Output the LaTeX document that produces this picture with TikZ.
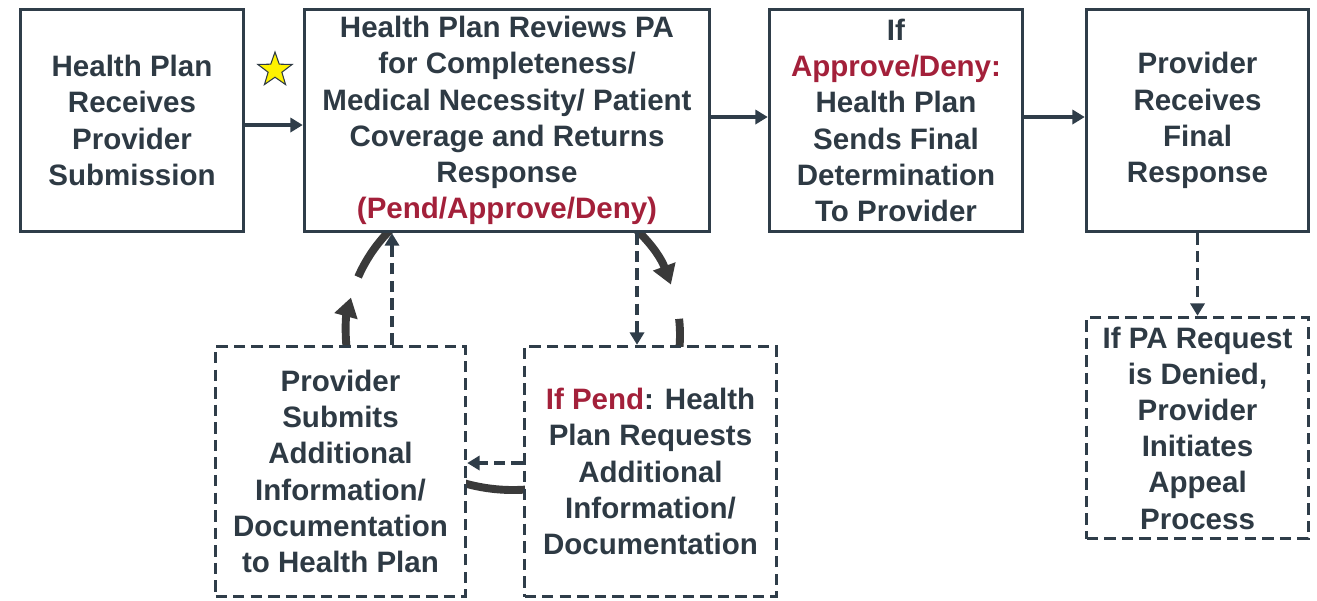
\documentclass[tikz,border=0pt]{standalone}
\usepackage{fontspec}
\setmainfont{Liberation Sans}
\usetikzlibrary{arrows.meta}
\usetikzlibrary{shapes.geometric}

\definecolor{slate}{HTML}{2F3D49}
\definecolor{ink}{HTML}{2E3A44}
\definecolor{pend}{HTML}{A3203A}
\definecolor{cycle}{HTML}{3A3A3A}

\begin{document}
\begin{tikzpicture}[x=0.02cm, y=-0.02cm,
  every node/.style={align=center, inner sep=0pt, text=ink,
    font=\fontsize{16.8}{20.6}\selectfont\bfseries},
  box/.style={draw=slate, line width=2pt, fill=white},
  dbox/.style={box, dash pattern=on 6.5pt off 3.5pt},
  arr/.style={draw=slate, line width=2pt, -{Triangle[width=8pt,length=7pt]}},
  darr/.style={arr, dash pattern=on 6.5pt off 3.5pt},
  loop/.style={draw=cycle, line width=4.5pt},
  looparr/.style={loop, -{Triangle[width=13pt,length=11pt]}}]
\useasboundingbox (0,0) rectangle (1317,600);

% the review cycle, mostly hidden behind the boxes
\draw[looparr] (513,335) ++(172:167 and 155) arc[start angle=172, end angle=194, x radius=167, y radius=155];
\draw[loop] (513,335) ++(202:167 and 155) arc[start angle=202, end angle=240, x radius=167, y radius=155];
\draw[looparr] (513,335) ++(300:167 and 155) arc[start angle=300, end angle=341, x radius=167, y radius=155];
\draw[loop] (513,335) ++(354:167 and 155) arc[start angle=354, end angle=380, x radius=167, y radius=155];
\draw[loop] (513,335) ++(75:167 and 155) arc[start angle=75, end angle=120, x radius=167, y radius=155];

% top row
\node[box, minimum width=223*0.02cm, minimum height=222*0.02cm] (receive) at (132,120.5)
  {Health Plan\\Receives\\Provider\\Submission};
\node[box, minimum width=405*0.02cm, minimum height=222*0.02cm] (review) at (507,120.5)
  {Health Plan Reviews PA\\for Completeness/\\Medical Necessity/ Patient\\Coverage and Returns\\Response\\\textcolor{pend}{(Pend/Approve/Deny)}};
\node[box, minimum width=253*0.02cm, minimum height=222*0.02cm] (final) at (896,120.5)
  {If\\\textcolor{pend}{Approve/Deny:}\\Health Plan\\Sends Final\\Determination\\To Provider};
\node[box, minimum width=222*0.02cm, minimum height=222*0.02cm] (response) at (1197.5,120.5)
  {Provider\\Receives\\Final\\Response};

% bottom row
\node[dbox, minimum width=250*0.02cm, minimum height=250*0.02cm] (submit) at (340.5,471.5)
  {Provider\\Submits\\Additional\\Information/\\Documentation\\to Health Plan};
\node[dbox, minimum width=252*0.02cm, minimum height=250*0.02cm] (request) at (650.5,471.5)
  {\textcolor{pend}{If Pend}: Health\\Plan Requests\\Additional\\Information/\\Documentation};
\node[dbox, minimum width=222*0.02cm, minimum height=221*0.02cm] (appeal) at (1197.5,428)
  {If PA Request\\is Denied,\\Provider\\Initiates\\Appeal\\Process};

\node[star, star points=5, star point ratio=2.5, draw=ink, fill=yellow,
  line width=0.6pt, minimum size=0.72cm] (star) at (275,70) {};

\coordinate (pendin) at ([xshift=-0.27cm]request.north);
\coordinate (subout) at ([xshift=1.03cm]submit.north);

\draw[arr] ([yshift=-0.09cm]receive.east) -- ([yshift=-0.09cm]review.west);
\draw[arr] ([yshift=0.07cm]review.east) -- ([yshift=0.07cm]final.west);
\draw[arr] ([yshift=0.07cm]final.east) -- ([yshift=0.07cm]response.west);
\draw[darr] (review.south -| pendin) -- (pendin);
\draw[darr] (subout) -- (subout |- review.south);
\draw[darr] ([yshift=0.17cm]request.west) -- ([yshift=0.17cm]submit.east);
\draw[darr] (response) -- (appeal);
\end{tikzpicture}
\end{document}
